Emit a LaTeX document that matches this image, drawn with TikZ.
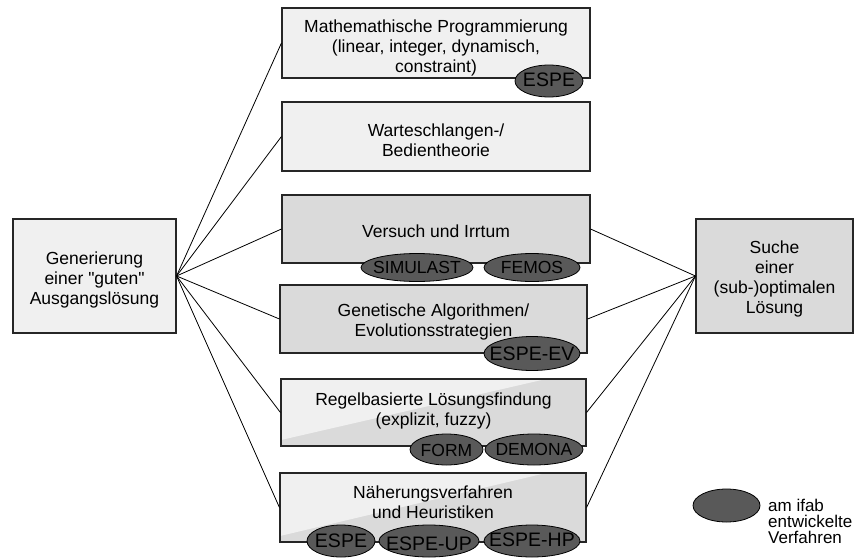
\documentclass[tikz,border=0pt]{standalone}
\usepackage{fontspec}
\setmainfont{Liberation Sans}
\newfontfamily\rawfont{Liberation Sans}
\usetikzlibrary{shapes.geometric}
\definecolor{boxlight}{HTML}{F0F0F0}
\definecolor{boxmid}{HTML}{DADADA}
\definecolor{ovalfill}{HTML}{595959}
\newcommand{\boxfont}{\fontsize{17.5}{20}\selectfont}
\newcommand{\espefont}{\fontsize{19.5}{22}\selectfont}
\newcommand{\legfont}{\fontsize{17}{16}\selectfont}
\begin{document}
\begin{tikzpicture}[x=1pt,y=-1pt,
  box/.style={draw=black!85, line width=1.1pt, inner sep=0pt},
  lightbox/.style={box, fill=boxlight},
  midbox/.style={box, fill=boxmid},
  diagbox/.style={box, fill=boxmid, path picture={\fill[boxlight] ([yshift=6pt]path picture bounding box.south west) -- (path picture bounding box.north west) -- ([xshift=-40pt]path picture bounding box.north east) -- cycle;}},
  txt/.style={align=center, font=\boxfont, inner sep=0pt},
  oval/.style={ellipse, draw=black, line width=0.8pt, fill=ovalfill, inner sep=0pt, minimum height=32pt},
  ovaltxt/.style={inner sep=0pt, font=\boxfont},
  espetxt/.style={inner sep=0pt, font=\espefont},
  conn/.style={line width=0.8pt, black}
]
\useasboundingbox (0,0) rectangle (854,557);

% boxes
\node[lightbox, minimum width=163pt, minimum height=114pt] (L) at (94.5,276) {};
\node[midbox, minimum width=157pt, minimum height=114pt] (R) at (774.5,276) {};
\node[lightbox, minimum width=308pt, minimum height=70pt] (b1) at (436,43) {};
\node[lightbox, minimum width=308pt, minimum height=69pt] (b2) at (436,136.5) {};
\node[midbox, minimum width=308pt, minimum height=68pt] (b3) at (436,229) {};
\node[midbox, minimum width=307pt, minimum height=68pt] (b4) at (433.5,319) {};
\node[diagbox, minimum width=305pt, minimum height=67pt] (b5) at (433.5,412.5) {};
\node[diagbox, minimum width=306pt, minimum height=69pt] (b6) at (433,507.5) {};

% texts
\node[txt] (tL) at (94.5,279.5) {Generierung\\einer {\rawfont"guten"}\\Ausgangslösung};
\node[txt] (tR) at (774.5,279) {Suche\\einer\\(sub-)optimalen\\Lösung};
\node[txt] (t1) at (436,47.5) {Mathemathische Programmierung\\(linear, integer, dynamisch,\\constraint)};
\node[txt] (t2) at (436,140) {Warteschlangen-/\\Bedientheorie};
\node[txt] (t3) at (436,231) {Versuch und Irrtum};
\node[txt] (t4) at (433.5,321.5) {Genetische Algorithmen/\\Evolutionsstrategien};
\node[txt] (t5) at (433.5,410.5) {Regelbasierte Lösungsfindung\\(explizit, fuzzy)};
\node[txt] (t6) at (433,502.5) {Näherungsverfahren\\und Heuristiken};

% connectors
\foreach \b in {b1,b2,b3,b4,b5,b6} {\draw[conn] (L.east) -- (\b.west);}
\foreach \b in {b3,b4,b5,b6} {\draw[conn] (R.west) -- (\b.east);}

% ovals
\node[oval, minimum width=68pt] (o1) at (549,81) {};
\node[espetxt] (o1t) at (549,80) {ESPE};
\node[oval, minimum width=112pt, minimum height=28pt] (o3a) at (417,267.5) {};
\node[ovaltxt] (o3at) at (417,267.5) {SIMULAST};
\node[oval, minimum width=96pt, minimum height=28pt] (o3b) at (532,267.5) {};
\node[ovaltxt] (o3bt) at (532,267.5) {FEMOS};
\node[oval, minimum width=96pt, minimum height=34pt] (o4) at (532,353.5) {};
\node[espetxt] (o4t) at (532,353.5) {ESPE-EV};
\node[oval, minimum width=73pt, minimum height=31pt] (o5a) at (446.5,449.5) {};
\node[ovaltxt] (o5at) at (446.5,450) {FORM};
\node[oval, minimum width=98pt, minimum height=31pt] (o5b) at (534,449.5) {};
\node[ovaltxt] (o5bt) at (534,449) {DEMONA};
\node[oval, minimum width=68pt] (o6a) at (341,541) {};
\node[espetxt] (o6at) at (341,541) {ESPE};
\node[oval, minimum width=100pt] (o6b) at (429,541) {};
\node[espetxt] (o6bt) at (429,544) {ESPE-UP};
\node[oval, minimum width=96pt] (o6c) at (532,541) {};
\node[espetxt] (o6ct) at (532,540) {ESPE-HP};

% legend
\node[oval, minimum width=67pt, minimum height=33pt] (leg) at (726.5,505.5) {};
\node[align=left, font=\legfont, inner sep=0pt, anchor=west] (legt) at (768,521) {am ifab\\entwickelte\\Verfahren};
\end{tikzpicture}
\end{document}
